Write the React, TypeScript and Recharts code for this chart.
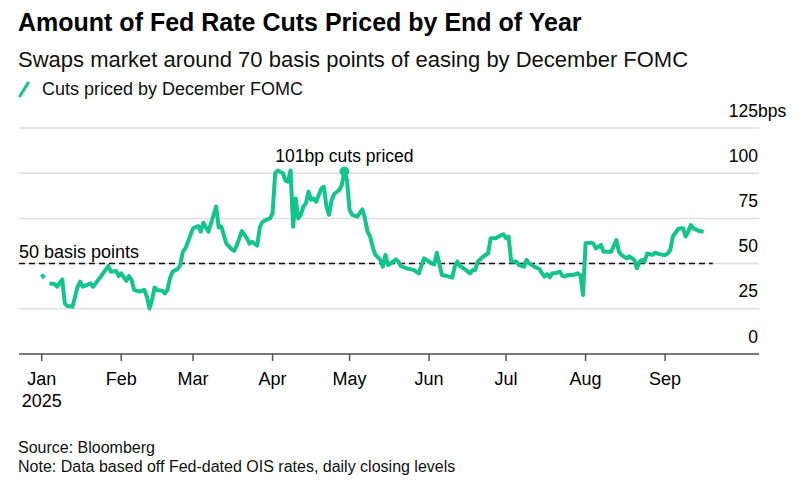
import React from "react";
import { LineChart, Line, XAxis, YAxis, CartesianGrid, ReferenceLine, ReferenceDot } from "recharts";

// days since Jan 1 2025 (trading days), null marks a gap in the series
const tradingDays = [
  0, 1, 2, 3, 5, 6, 8, 9, 10, 12, 14, 15, 16, 19, 20, 23, 25, 26, 27, 29, 30,
  31, 33, 34, 35, 36, 38, 40, 41, 42, 43, 44, 45, 47, 48, 49, 50, 51, 53, 54, 55, 56, 58,
  59, 61, 62, 63, 65, 66, 67, 68, 69, 70, 72, 74, 75, 76, 78, 79, 80, 81, 82, 84, 85, 86, 88, 89,
  90, 91, 92, 94, 95, 96, 97, 98, 99, 100, 101, 102, 103, 104, 105, 106, 107, 109, 110, 111, 112,
  113, 114, 116, 117, 118, 119, 120, 121, 123, 125, 126, 127, 128, 129, 130, 132, 133, 134, 135,
  136, 138, 139, 140, 142, 144, 145, 147, 149, 150, 152, 153, 154, 155, 156, 158, 160, 161, 162,
  163, 165, 167, 168, 169, 170, 172, 174, 175, 177, 178, 180, 181, 182, 183, 185, 186, 188, 189,
  190, 192, 194, 195, 196, 197, 198, 199, 200, 202, 203, 204, 205, 207, 209, 210, 211, 212, 214,
  215, 216, 217, 218, 219, 220, 222, 224, 225, 226, 228, 229, 230, 231, 232, 233, 234, 235, 236,
  238, 239, 241, 243, 244, 245, 246, 248, 249, 250, 251, 252, 253, 254, 256, 258,
];

// bps of cuts priced by December FOMC
const cutsPriced = [
  44, 42, null, 39, 38.7, 37.2, 41.3, 28, 26.5, 26.2, 37.2, 40, 37.2, 39.1, 37.2, 42.8, 46.8, 48.7, 45.5, 45.9, 43.1,
  44.6, 40.5, 43.1, 41, 35.5, 34.5, 35.4, 31.7, 25.2, 29.9, 36.8, 35.4, 35, 33.5, 35.4, 41.9, 45.5, 47, 49.2, 56.6, 58.4, 65.8,
  69.5, 70.8, 67.6, 72.6, 67.6, 72.3, 77, 81.5, 70, 70.5, 61, 58, 57, 60, 68, 66, 64, 61, 62, 60, 70, 73, 74.5, 75,
  77.8, 100, 101.5, 100, 96, 95.3, 101.5, 70.4, 86, 75, 77, 81.5, 83.4, 89.8, 85.2, 86, 84.2, 91.6, 92.5, 81.5, 77,
  85, 88.5, 90.7, 93.5, 101, 96.2, 79.6, 77, 76, 80, 75, 67.6, 65, 59.3, 55, 52, 48.3, 54.8, 49.2,
  50, 52.3, 51.1, 48.7, 47.4, 46.8, 46.5, 44.6, 52.9, 52, 50.1, 49.5, 56, 50, 43.7, 43.1, 42.2, 48.3, 51.1,
  48.7, 46.8, 44.6, 46.5, 46.5, 51.1, 53.8, 55.6, 64, 64, 64.9, 66.2, 64, 64.9, 51.1, 51.1, 49.2, 48.3, 52,
  50.1, 48.3, 47, 44.6, 42.8, 44.2, 42.4, 44.6, 44.6, 45.5, 43.1, 42.8, 43.7, 43.7, 44.6, 43.5, 32.6, 61.2, 61.6,
  61.2, 58.4, 59.3, 60.3, 56.6, 56.6, 56.6, 63, 56.6, 54.8, 52.9, 54, 53, 52, 47.4, 51.1, 52, 51.1, 55.6,
  54.8, 56, 55.1, 54.8, 55.6, 57.5, 64.9, 69, 69.5, 69.5, 65, 67.6, 71.3, 69.5, 68.2, 67.6,
];

const monthTicks = [0, 31, 59, 90, 120, 151, 181, 212, 243];
const monthLabels = ["Jan", "Feb", "Mar", "Apr", "May", "Jun", "Jul", "Aug", "Sep"];
const yearLabel = "2025";
const yTicks = [0, 25, 50, 75, 100, 125];
const peakDay = 118;
const thresholdValue = 50;

const data = tradingDays.map((d, i) => ({ day: d, cuts: cutsPriced[i] }));
const peakValue = cutsPriced[tradingDays.indexOf(peakDay)];

const FONT = '"Liberation Sans", Arial, Helvetica, sans-serif';
const GREEN = "#13c48c";
const X_MIN = -8.85;
const X_MAX = 279.6;
const DASH_END = 261.6;

const MonthTick = (props: any) => {
  const { x, y, payload } = props;
  const i = monthTicks.indexOf(payload.value);
  return (
    <g>
      <text x={x} y={y + 24} textAnchor="middle" fontSize={18} fill="#000" fontFamily={FONT}>
        {monthLabels[i]}
      </text>
      {i === 0 && (
        <text x={x} y={y + 46} textAnchor="middle" fontSize={18} fill="#000" fontFamily={FONT}>
          {yearLabel}
        </text>
      )}
    </g>
  );
};

const ValueTick = (props: any) => {
  const { x, y, payload } = props;
  return (
    <g>
      <text x={x} y={y - 11.5} textAnchor="end" fontSize={17.5} fill="#000" fontFamily={FONT}>
        {payload.value}
      </text>
      {payload.value === 125 && (
        <text x={x} y={y - 11.5} textAnchor="start" fontSize={17.5} fill="#000" fontFamily={FONT}>
          bps
        </text>
      )}
    </g>
  );
};

export default function App() {
  return (
    <div style={{ position: "absolute", left: 0, top: 0, width: 803, height: 497, background: "#fff", fontFamily: FONT }}>
      <div style={{ position: "absolute", left: 18, top: 10, fontSize: 25, lineHeight: "25px", fontWeight: 700, color: "#000", whiteSpace: "nowrap" }}>
        Amount of Fed Rate Cuts Priced by End of Year
      </div>
      <div style={{ position: "absolute", left: 18, top: 49, fontSize: 22, lineHeight: "22px", color: "#111", whiteSpace: "nowrap" }}>
        Swaps market around 70 basis points of easing by December FOMC
      </div>
      <div style={{ position: "absolute", left: 18, top: 80, fontSize: 18, lineHeight: "18px", color: "#111", whiteSpace: "nowrap", display: "flex", alignItems: "center" }}>
        <svg width={12} height={18} style={{ marginRight: 12 }}>
          <line x1={2} y1={16} x2={10} y2={3} stroke={GREEN} strokeWidth={3} strokeLinecap="round" />
        </svg>
        Cuts priced by December FOMC
      </div>

      <div style={{ position: "absolute", left: 0, top: 0 }}>
        <LineChart width={803} height={497} data={data} margin={{ top: 128, right: 43, left: 19, bottom: 103 }}>
          <CartesianGrid vertical={false} stroke="#e0e0e0" strokeWidth={1.5} />
          <XAxis
            dataKey="day"
            type="number"
            domain={[X_MIN, X_MAX]}
            ticks={monthTicks}
            allowDataOverflow
            height={40}
            tick={<MonthTick />}
            tickSize={7}
            tickMargin={0}
            stroke="#555"
            strokeWidth={1.5}
            tickLine={{ stroke: "#555", strokeWidth: 1.5 }}
            interval={0}
          />
          <YAxis
            yAxisId={0}
            orientation="right"
            width={1}
            domain={[0, 125]}
            ticks={yTicks}
            axisLine={false}
            tickLine={false}
            tickSize={0}
            tickMargin={0}
            tick={(p: any) => <ValueTick {...p} x={p.x - 1} />}
            interval={0}
          />
          <ReferenceLine
            segment={[{ x: X_MIN, y: thresholdValue }, { x: DASH_END, y: thresholdValue }]}
            stroke="#111"
            strokeWidth={1.5}
            strokeDasharray="6 4"
            label={(p: any) => (
              <text x={p.viewBox.x} y={p.viewBox.y - 6} fontSize={18} fill="#000" fontFamily={FONT}>
                50 basis points
              </text>
            )}
          />
          <Line
            type="linear"
            dataKey="cuts"
            stroke={GREEN}
            strokeWidth={4}
            strokeLinejoin="round"
            dot={false}
            isAnimationActive={false}
          />
          <ReferenceDot
            x={peakDay}
            y={peakValue}
            r={4.5}
            fill={GREEN}
            stroke={GREEN}
            label={{ value: "101bp cuts priced", position: "top", offset: 5, fill: "#000", fontSize: 17.5, fontFamily: FONT }}
          />
        </LineChart>
      </div>

      <div style={{ position: "absolute", left: 18, top: 440, fontSize: 16, lineHeight: "16px", color: "#111", whiteSpace: "nowrap" }}>
        Source: Bloomberg
      </div>
      <div style={{ position: "absolute", left: 18, top: 459, fontSize: 16, lineHeight: "16px", color: "#111", whiteSpace: "nowrap" }}>
        Note: Data based off Fed-dated OIS rates, daily closing levels
      </div>
    </div>
  );
}
